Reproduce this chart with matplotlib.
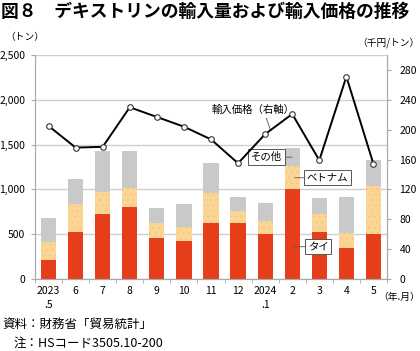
import matplotlib
matplotlib.use('Agg')
import matplotlib.pyplot as plt
import numpy as np

plt.rcParams['font.family'] = ['Noto Sans CJK JP', 'DejaVu Sans']
plt.rcParams['hatch.linewidth'] = 0.5

# data
months = ['2023\n.5', '6', '7', '8', '9', '10', '11', '12', '2024\n.1', '2', '3', '4', '5']
thai = [210, 520, 720, 800, 460, 420, 620, 620, 500, 1000, 530, 350, 500]
vietnam = [200, 320, 250, 220, 160, 160, 335, 140, 150, 260, 200, 160, 540]
other = [270, 280, 460, 410, 170, 260, 345, 155, 200, 200, 170, 410, 290]
price = [205, 176, 177, 230, 217, 204, 187, 155, 194, 221, 159, 271, 154]

x = np.arange(len(months))
thai = np.array(thai)
vietnam = np.array(vietnam)
other = np.array(other)

fig = plt.figure(figsize=(4.2, 3.51), dpi=100)
ax = fig.add_axes([35/420, 1-279/351, 352/420, 224/351])
ax2 = ax.twinx()

red = '#E63D1A'
orange = '#FAD595'
gray = '#C9C9C9'

w = 0.56
ax.bar(x, thai, w, color=red, zorder=2)
ax.bar(x, vietnam, w, bottom=thai, color=orange, edgecolor='#F5C47F', linewidth=0,
       hatch='...', zorder=2)
ax.bar(x, other, w, bottom=thai + vietnam, color=gray, zorder=2)

ax.set_xlim(-0.5, len(months) - 0.5)
ax.set_ylim(0, 2500)
ax.set_yticks(np.arange(0, 2501, 500))
ax.set_yticklabels(['0', '500', '1,000', '1,500', '2,000', '2,500'])
ax.grid(axis='y', color='#CFCFCF', linewidth=1, zorder=0)
ax.set_axisbelow(True)

ax.set_xticks(x)
ax.set_xticklabels(months, fontsize=7.5, va='top', linespacing=1.5)
ax.set_xticks(np.arange(-0.5, len(months), 1), minor=True)
ax.tick_params(axis='x', which='major', length=0, pad=5)
ax.tick_params(axis='x', which='minor', length=3, color='#AAAAAA', direction='out')
ax.tick_params(axis='y', length=3, color='#AAAAAA', labelsize=7.5, pad=4)

ax2.plot(x, price, color='black', linewidth=1.4, marker='o', markersize=4,
         markerfacecolor='white', markeredgecolor='#333333', markeredgewidth=0.8, zorder=5)
ax2.set_ylim(0, 300)
ax2.set_yticks(np.arange(0, 281, 40))
ax2.tick_params(axis='y', length=3, color='#AAAAAA', labelsize=7.5, pad=6)

for a in (ax, ax2):
    a.spines['top'].set_visible(False)
    for s in ('left', 'right', 'bottom'):
        a.spines[s].set_color('#AAAAAA')
        a.spines[s].set_linewidth(0.8)

# annotations
ax2.annotate('輸入価格（右軸）', xy=(8.2, 199), xytext=(7.55, 226), fontsize=7.5,
             ha='center', va='center',
             arrowprops=dict(arrowstyle='-', color='#555555', lw=0.6, shrinkA=0, shrinkB=0,
                             relpos=(0.65, 0)))
box = dict(boxstyle='square,pad=0.25', facecolor='white', edgecolor='#555555', linewidth=0.7)
ax.annotate('その他', xy=(9.0, 1360), xytext=(8.05, 1360), fontsize=7.5, ha='center',
            va='center', bbox=box,
            arrowprops=dict(arrowstyle='-', color='#555555', lw=0.6, shrinkA=0, shrinkB=0))
ax.annotate('ベトナム', xy=(9.1, 1130), xytext=(10.3, 1130), fontsize=7.5, ha='center',
            va='center', bbox=box,
            arrowprops=dict(arrowstyle='-', color='#555555', lw=0.6, shrinkA=0, shrinkB=0))
ax.annotate('タイ', xy=(9.05, 360), xytext=(9.95, 360), fontsize=7.5, ha='center',
            va='center', bbox=box,
            arrowprops=dict(arrowstyle='-', color='#555555', lw=0.6, shrinkA=0, shrinkB=0))

fig.text(0.002, 0.965, '図８　デキストリンの輸入量および輸入価格の推移', fontsize=12.8,
         fontweight='bold', va='center', ha='left')
fig.text(0.012, 0.893, '（トン）', fontsize=7, va='center', ha='left')
fig.text(0.998, 0.878, '（千円/トン）', fontsize=7, va='center', ha='right')
fig.text(0.999, 0.155, '（年.月）', fontsize=7, va='center', ha='right')
fig.text(0.005, 0.075, '資料：財務省「貿易統計」', fontsize=9, va='center', ha='left')
fig.text(0.033, 0.022, '注：HSコード3505.10-200', fontsize=9, va='center', ha='left')

fig.savefig('out.png', dpi=100)
